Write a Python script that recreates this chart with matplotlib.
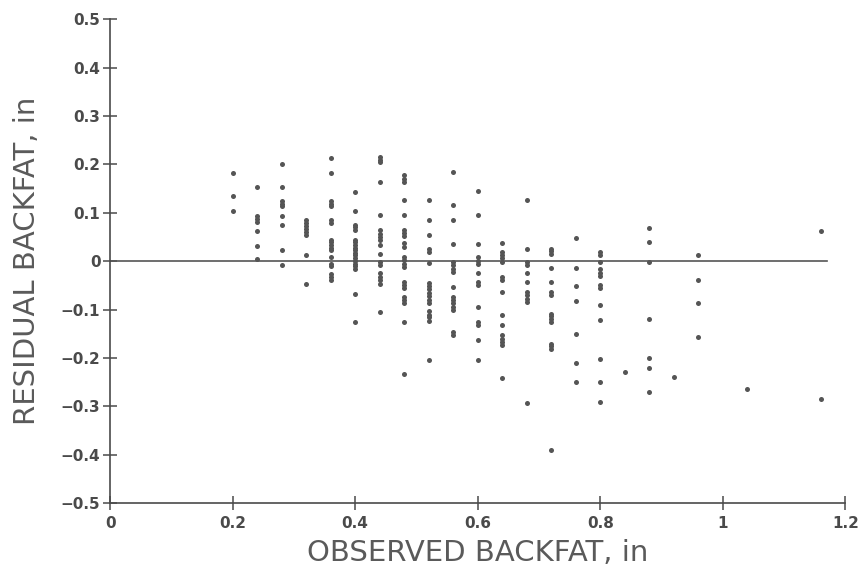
import matplotlib.pyplot as plt

# observed backfat levels (in) and the residuals read at each level
backfat_levels = [0.20, 0.24, 0.28, 0.32, 0.36, 0.40, 0.44, 0.48, 0.52, 0.56, 0.60,
                  0.64, 0.68, 0.72, 0.76, 0.80, 0.84, 0.88, 0.92, 0.96, 1.04, 1.16]

residuals = [
    [0.182, 0.134, 0.103],
    [0.154, 0.093, 0.087, 0.081, 0.063, 0.032, 0.004],
    [0.202, 0.154, 0.125, 0.119, 0.114, 0.093, 0.074, 0.023, -0.007],
    [0.085, 0.079, 0.073, 0.067, 0.061, 0.055, 0.014, -0.046],
    [0.214, 0.182, 0.125, 0.119, 0.114, 0.085, 0.079, 0.045, 0.039, 0.034, 0.028,
     0.023, 0.009, -0.005, -0.010, -0.027, -0.032, -0.038],
    [0.143, 0.104, 0.076, 0.070, 0.064, 0.045, 0.039, 0.034, 0.028, 0.023, 0.017,
     0.012, 0.006, 0.001, -0.005, -0.010, -0.016, -0.067, -0.126],
    [0.215, 0.210, 0.205, 0.164, 0.095, 0.065, 0.057, 0.050, 0.043, 0.033, 0.016,
     -0.001, -0.008, -0.025, -0.032, -0.039, -0.046, -0.105],
    [0.178, 0.171, 0.164, 0.126, 0.095, 0.065, 0.058, 0.052, 0.037, 0.030, 0.009,
     0.002, -0.005, -0.012, -0.043, -0.050, -0.056, -0.074, -0.081, -0.087,
     -0.125, -0.232],
    [0.126, 0.085, 0.055, 0.026, 0.019, -0.003, -0.045, -0.052, -0.058, -0.065,
     -0.072, -0.079, -0.086, -0.103, -0.110, -0.116, -0.123, -0.203],
    [0.185, 0.116, 0.085, 0.035, -0.001, -0.008, -0.015, -0.022, -0.053, -0.074,
     -0.081, -0.087, -0.094, -0.101, -0.146, -0.153],
    [0.145, 0.095, 0.035, 0.008, 0.001, -0.006, -0.025, -0.043, -0.050, -0.094,
     -0.125, -0.132, -0.163, -0.203],
    [0.037, 0.019, 0.012, 0.006, -0.001, -0.032, -0.039, -0.063, -0.112, -0.132,
     -0.153, -0.160, -0.167, -0.174, -0.242],
    [0.127, 0.026, -0.001, -0.008, -0.024, -0.043, -0.063, -0.070, -0.077, -0.084,
     -0.292],
    [0.026, 0.021, 0.016, -0.013, -0.043, -0.063, -0.070, -0.108, -0.114, -0.119,
     -0.125, -0.170, -0.176, -0.182, -0.390],
    [0.048, -0.013, -0.052, -0.082, -0.151, -0.211, -0.249],
    [0.019, 0.012, -0.001, -0.015, -0.024, -0.031, -0.050, -0.056, -0.091, -0.122,
     -0.201, -0.249, -0.291],
    [-0.229],
    [0.069, 0.039, -0.001, -0.120, -0.200, -0.220, -0.270],
    [-0.240],
    [0.014, -0.038, -0.086, -0.157],
    [-0.264],
    [0.063, -0.285],
]

x_ticks = [0, 0.2, 0.4, 0.6, 0.8, 1.0, 1.2]
x_tick_labels = ['0', '0.2', '0.4', '0.6', '0.8', '1', '1.2']
y_ticks = [-0.5, -0.4, -0.3, -0.2, -0.1, 0, 0.1, 0.2, 0.3, 0.4, 0.5]
y_tick_labels = ['\u22120.5', '\u22120.4', '\u22120.3', '\u22120.2', '\u22120.1', '0',
                 '0.1', '0.2', '0.3', '0.4', '0.5']

ink = '#4a4a4a'

fig = plt.figure(figsize=(8.67, 5.68), dpi=100)
ax = fig.add_axes([0.127, 0.114, 0.848, 0.852])

xs, ys = [], []
for level, vals in zip(backfat_levels, residuals):
    xs += [level] * len(vals)
    ys += vals
ax.scatter(xs, ys, s=13, color='#555555', marker='o', linewidths=0, zorder=3)

# zero reference line
ax.plot([0, 1.17], [0, 0], color='#555555', lw=1.2, zorder=2)

ax.set_xlim(0, 1.2)
ax.set_ylim(-0.5, 0.5)
ax.set_xticks(x_ticks)
ax.set_xticklabels(x_tick_labels)
ax.set_yticks(y_ticks)
ax.set_yticklabels(y_tick_labels)

for side in ['top', 'right']:
    ax.spines[side].set_visible(False)
for side in ['left', 'bottom']:
    ax.spines[side].set_color(ink)
    ax.spines[side].set_linewidth(1.2)

ax.tick_params(direction='inout', length=10, width=1.1, color=ink,
               labelsize=11, labelcolor=ink, pad=2)
ax.tick_params(axis='x', pad=4)
for lab in ax.get_xticklabels() + ax.get_yticklabels():
    lab.set_fontweight('bold')

ax.set_xlabel('OBSERVED BACKFAT, in', fontsize=21, color='#5a5a5a', labelpad=6)
ax.set_ylabel('RESIDUAL BACKFAT, in', fontsize=21, color='#5a5a5a', labelpad=14)

fig.savefig('out.png', dpi=100, facecolor='white')
